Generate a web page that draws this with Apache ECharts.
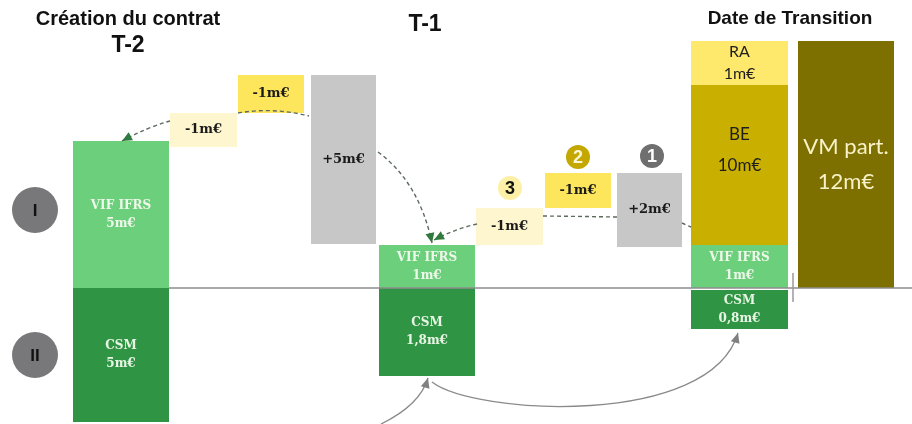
<!DOCTYPE html>
<html><head><meta charset="utf-8">
<script src="https://cdn.jsdelivr.net/npm/echarts@6/dist/echarts.min.js"></script>
<style>html,body{margin:0;padding:0;background:#fff}#c{width:912px;height:424px}</style>
</head><body><div id="c"></div>
<script>
// ---- data (diagram units: y = 0 on the baseline) ----
const columnTitles = ['Création du contrat', 'T-2', 'T-1', 'Date de Transition'];
const blockLabels = ['VIF IFRS\n5m€', 'CSM\n5m€', '-1m€', '-1m€', '+5m€',
  'VIF IFRS\n1m€', 'CSM\n1,8m€', '-1m€', '-1m€', '+2m€',
  'VIF IFRS\n1m€', 'CSM\n0,8m€', 'BE\n10m€', 'RA\n1m€', 'VM part.\n12m€'];
const blockFrom = [3.65, 3.65, 8.5, 11.9, 15.55, 18.95, 18.95, 23.8, 27.25, 30.85, 34.55, 34.55, 34.55, 34.55, 39.9];
const blockTo   = [8.45, 8.45, 11.85, 15.2, 18.8, 23.75, 23.75, 27.15, 30.55, 34.1, 39.4, 39.4, 39.4, 39.4, 44.7];
const blockLow  = [0, -6.7, 7.05, 8.75, 2.2, 0, -4.4, 2.15, 4.0, 2.05, 0, -2.05, 2.15, 10.15, 0];
const blockHigh = [7.35, 0, 8.75, 10.65, 10.65, 2.15, 0, 4.0, 5.75, 5.75, 2.15, -0.1, 10.15, 12.35, 12.35];
const blockKind = ['vif', 'csm', 'light', 'delta', 'gain', 'vif', 'csm', 'light', 'delta', 'gain', 'vif', 'csm', 'be', 'ra', 'vm'];

const markerLabels = ['I', 'II', '3', '2', '1'];
const markerX = [1.75, 1.75, 25.5, 28.9, 32.6];
const markerY = [3.9, -3.35, 5.0, 6.55, 6.6];
const markerKind = ['row', 'row', 'step3', 'step2', 'step1'];

// connectors: start, control1, (control2 or null), end
const linkStart = [[8.5, 8.35], [11.9, 8.75], [18.9, 6.8], [23.85, 3.2], [27.15, 3.6], [34.1, 3.25], [19.05, -6.8], [21.6, -4.7], [8.45, 0], [39.65, 0.75]];
const linkCtrl1 = [[7.4, 8.05], [13.65, 9.05], [20.95, 5.3], [22.75, 2.95], [29, 3.58], [34.3, 3.15], [21.0, -5.85], [23.75, -6.35], null, null];
const linkCtrl2 = [null, null, null, null, null, null, null, [35.5, -7.0], null, null];
const linkEnd   = [[6.1, 7.35], [15.45, 8.6], [21.6, 2.25], [21.7, 2.4], [30.85, 3.55], [34.55, 3.05], [21.4, -4.5], [36.9, -2.25], [45.6, 0], [39.65, -0.7]];
const linkKind  = ['dashArrow', 'dash', 'dashArrow', 'dashArrow', 'dash', 'dash', 'solidArrow', 'solidArrow', 'axis', 'tick'];

// ---- styles ----
const serif = 'DejaVu Serif';
const sans = 'Lato';
const kindStyle = {
  vif:   { fill: '#6ccf7b', color: '#eef8ea', font: serif, size: 12, weight: 'bold', lh: 18, dy: 0 },
  csm:   { fill: '#2f9544', color: '#e9f5e4', font: serif, size: 12, weight: 'bold', lh: 18, dy: 0 },
  light: { fill: '#fef6cf', color: '#1a1a1a', font: serif, size: 13, weight: 'bold', lh: 18, dy: 0 },
  delta: { fill: '#fde65c', color: '#1a1a1a', font: serif, size: 13, weight: 'bold', lh: 18, dy: 0 },
  gain:  { fill: '#c7c7c7', color: '#1a1a1a', font: serif, size: 13, weight: 'bold', lh: 18, dy: 0 },
  be:    { fill: '#c8af00', color: '#1e1e1e', font: sans, size: 17, weight: 'normal', lh: 31, dy: -15 },
  ra:    { fill: '#fee96c', color: '#1e1e1e', font: sans, size: 16, weight: 'normal', lh: 22, dy: 0 },
  vm:    { fill: '#7d7000', color: '#f8f2c8', font: sans, size: 22, weight: 'normal', lh: 35, dy: 0 }
};
const linkStyle = {
  dash:       { stroke: '#5d6b5f', width: 1.4, dash: [4, 3], head: null },
  dashArrow:  { stroke: '#5d6b5f', width: 1.4, dash: [4, 3], head: '#2f7a3c' },
  solidArrow: { stroke: '#8a8a8a', width: 1.3, dash: null, head: '#808080' },
  axis:       { stroke: '#8c8c8c', width: 1.4, dash: null, head: null },
  tick:       { stroke: '#9a9a9a', width: 1.5, dash: null, head: null }
};
const markerStyle = {
  row:   { fill: '#78787b', color: '#111111', r: 23, size: 17 },
  step3: { fill: '#fdf0a6', color: '#111111', r: 12, size: 18 },
  step2: { fill: '#c4a700', color: '#fbf6d8', r: 12, size: 18 },
  step1: { fill: '#6f6f6f', color: '#ffffff', r: 12, size: 18 }
};

const chart = echarts.init(document.getElementById('c'), null, { renderer: 'canvas' });

function blockItem(params, api) {
  const i = params.dataIndex;
  const p0 = api.coord([blockFrom[i], blockHigh[i]]);
  const p1 = api.coord([blockTo[i], blockLow[i]]);
  const st = kindStyle[blockKind[i]];
  return {
    type: 'rect',
    shape: { x: p0[0], y: p0[1], width: p1[0] - p0[0], height: p1[1] - p0[1] },
    style: { fill: st.fill },
    textContent: {
      style: {
        text: blockLabels[i], fill: st.color, fontFamily: st.font, fontSize: st.size,
        fontWeight: st.weight, lineHeight: st.lh, align: 'center', verticalAlign: 'middle'
      }
    },
    textConfig: { position: 'inside', offset: [0, st.dy] }
  };
}

function markerItem(params, api) {
  const i = params.dataIndex;
  const p = api.coord([markerX[i], markerY[i]]);
  const st = markerStyle[markerKind[i]];
  return {
    type: 'group',
    children: [
      { type: 'circle', shape: { cx: p[0], cy: p[1], r: st.r }, style: { fill: st.fill } },
      { type: 'text', x: p[0], y: p[1] + 1, style: {
          text: markerLabels[i], fill: st.color, fontFamily: 'Liberation Sans', fontWeight: 'bold',
          fontSize: st.size, align: 'center', verticalAlign: 'middle' } }
    ]
  };
}

function linkItem(params, api) {
  const i = params.dataIndex;
  const st = linkStyle[linkKind[i]];
  const a = api.coord(linkStart[i]);
  const b = api.coord(linkEnd[i]);
  const c1 = linkCtrl1[i] ? api.coord(linkCtrl1[i]) : null;
  const c2 = linkCtrl2[i] ? api.coord(linkCtrl2[i]) : null;
  const children = [];
  let last = a;
  if (c1) {
    const shape = { x1: a[0], y1: a[1], x2: b[0], y2: b[1], cpx1: c1[0], cpy1: c1[1] };
    if (c2) { shape.cpx2 = c2[0]; shape.cpy2 = c2[1]; last = c2; } else { last = c1; }
    children.push({ type: 'bezierCurve', shape: shape,
      style: { stroke: st.stroke, lineWidth: st.width, lineDash: st.dash, fill: null } });
  } else {
    children.push({ type: 'line', shape: { x1: a[0], y1: a[1], x2: b[0], y2: b[1] },
      style: { stroke: st.stroke, lineWidth: st.width, lineDash: st.dash } });
  }
  if (st.head) {
    let dx = b[0] - last[0], dy = b[1] - last[1];
    const len = Math.sqrt(dx * dx + dy * dy) || 1;
    dx /= len; dy /= len;
    const L = 10, W = 4.5;
    const bx = b[0] - dx * L, by = b[1] - dy * L;
    children.push({ type: 'polygon', shape: { points: [
      [b[0], b[1]], [bx - dy * W, by + dx * W], [bx + dy * W, by - dx * W]] },
      style: { fill: st.head } });
  }
  return { type: 'group', children: children };
}

const option = {
  animation: false,
  backgroundColor: '#ffffff',
  title: [
    { text: columnTitles[0], left: 128, top: 9, textAlign: 'center', padding: 0,
      textStyle: { fontFamily: 'Liberation Sans', fontWeight: 'bold', fontSize: 20, color: '#111' } },
    { text: columnTitles[1], left: 128, top: 34, textAlign: 'center', padding: 0,
      textStyle: { fontFamily: 'Liberation Sans', fontWeight: 'bold', fontSize: 23, color: '#111' } },
    { text: columnTitles[2], left: 425, top: 13, textAlign: 'center', padding: 0,
      textStyle: { fontFamily: 'Liberation Sans', fontWeight: 'bold', fontSize: 23, color: '#111' } },
    { text: columnTitles[3], left: 790, top: 9, textAlign: 'center', padding: 0,
      textStyle: { fontFamily: 'Liberation Sans', fontWeight: 'bold', fontSize: 19, color: '#111' } }
  ],
  grid: { left: 0, right: 0, top: 0, bottom: 0 },
  xAxis: { type: 'value', min: 0, max: 45.6, show: false },
  yAxis: { type: 'value', min: -6.8, max: 14.4, show: false },
  series: [
    {
      type: 'custom', name: 'blocks', clip: false, z: 2,
      data: blockLabels.map((l, i) => i),
      renderItem: blockItem
    },
    {
      type: 'custom', name: 'links', clip: false, z: 3,
      data: linkKind.map((k, i) => i),
      renderItem: linkItem
    },
    {
      type: 'custom', name: 'markers', clip: false, z: 4,
      data: markerLabels.map((m, i) => i),
      renderItem: markerItem
    }
  ]
};
chart.setOption(option);
</script>
</body></html>
